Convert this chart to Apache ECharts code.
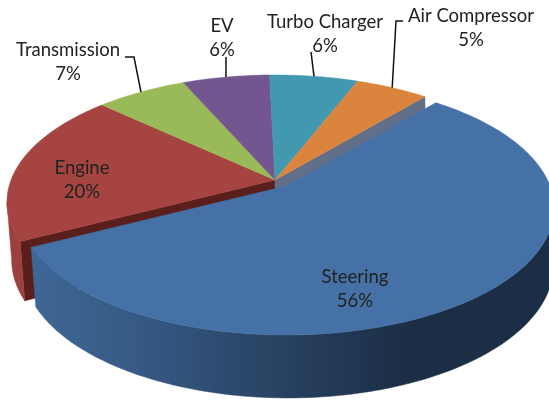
<!DOCTYPE html>
<html>
<head>
<meta charset="utf-8">
<title>Pie</title>
<style>
html, body { margin: 0; padding: 0; background: #fff; }
#main { width: 549px; height: 400px; }
</style>
<script src="https://cdn.jsdelivr.net/npm/echarts@6/dist/echarts.min.js"></script>
</head>
<body>
<div id="main"></div>
<script>
// draw order: the pulled out slice goes last
var categories = ['Engine', 'Transmission', 'EV', 'Turbo Charger', 'Air Compressor', 'Steering'];
var shares = [19.5, 6.5, 6.2, 6.3, 5.2, 56.3];

var topColors = ['#a64441', '#9aba59', '#735690', '#4198af', '#db843d', '#4571a6'];
var wallColors = ['#9c403d', '#7d9a48', '#5c4575', '#35798c', '#b06a30', '#2b4a6f'];
var cutColors = ['#5a1f1c', '#5a1f1c', '#5a1f1c', '#5a1f1c', '#626f88', '#2b4a6f'];
var labelCenters = [[82, 180], [68, 62], [222, 38], [325, 34], [471, 28], [355, 289]];
var leaderStarts = [null, [[125, 57], [134, 57]], [[226, 57]], [[311, 52]], [[403, 21], [396, 21]], null];

var firstAngle = 242.7;
var explodedIndex = 5;
var explodeOffset = [11, 6];
var pivot = [275, 180];
var radiusX = 264, radiusY = 123.2, tilt = 0.173;
var depth = 57, taperX = 0.99, shiftX = 2, stretchY = 0.04;

// perspective view of the pie plane, angle clockwise from the top
function rim(angle, offset) {
	var r = angle * Math.PI / 180;
	var u = Math.sin(r), v = -Math.cos(r);
	var w = 1 - tilt * v;
	return [pivot[0] + offset[0] + radiusX * u / w, pivot[1] + offset[1] + radiusY * v / w];
}

// same point on the underside of the pie
function lower(pt, offset) {
	var ox = pivot[0] + offset[0];
	var oy = pivot[1] + offset[1];
	return [ox + (pt[0] - ox) * taperX + shiftX, pt[1] + depth + (pt[1] - oy) * stretchY];
}

function arc(from, to, offset) {
	var pts = [];
	var steps = Math.ceil(Math.abs(to - from));
	for (var i = 0; i <= steps; i++) {
		pts.push(rim(from + (to - from) * i / steps, offset));
	}
	return pts;
}

function poly(points, fill, z2) {
	return { type: 'polygon', z2: z2, shape: { points: points }, style: { fill: fill, stroke: fill, lineWidth: 0.5 } };
}

var total = shares.reduce(function(a, b) { return a + b; }, 0);
var startAngles = [];
var sum = firstAngle;
for (var n = 0; n < shares.length; n++) {
	startAngles.push(sum);
	sum += shares[n] / total * 360;
}

// the rim faces the viewer between its rightmost and leftmost points
var wallFrom = Math.acos(-tilt) * 180 / Math.PI;
var wallTo = 360 - wallFrom;

function renderSlice(params, api) {
	var i = params.dataIndex;
	var from = startAngles[i];
	var to = from + api.value(0) / total * 360;
	var mid = (from + to) / 2;
	var exploded = i === explodedIndex;
	var offset = exploded ? explodeOffset : [0, 0];
	var base = exploded ? 3 : 0;
	var center = [pivot[0] + offset[0], pivot[1] + offset[1]];
	var edge = arc(from, to, offset);
	var children = [];

	// cut faces only show next to the pulled out slice
	var cutEdges = [];
	if (i === (explodedIndex + 1) % shares.length) {
		cutEdges.push(edge[0]);
	}
	if (i + 1 === explodedIndex) {
		cutEdges.push(edge[edge.length - 1]);
	}
	cutEdges.forEach(function(p) {
		children.push(poly([center, p, lower(p, offset), lower(center, offset)], cutColors[i], base + 1));
	});

	// outer wall, visible part of the rim only (angles run past 360)
	for (var turn = 0; turn < 2; turn++) {
		var a = Math.max(from, wallFrom + turn * 360);
		var b = Math.min(to, wallTo + turn * 360);
		if (a < b) {
			var wallFill = wallColors[i];
			if (exploded) {
				wallFill = new echarts.graphic.LinearGradient(0, 0, 1, 0, [
					{ offset: 0, color: '#3f6795' },
					{ offset: 0.2, color: '#365a85' },
					{ offset: 0.45, color: '#294465' },
					{ offset: 0.7, color: '#1c2f47' },
					{ offset: 1, color: '#1b2d44' }
				]);
			}
			var wallTop = arc(a, b, offset);
			var wallBottom = wallTop.map(function(p) { return lower(p, offset); }).reverse();
			children.push(poly(wallTop.concat(wallBottom), wallFill, base + 1));
		}
	}

	// top face
	children.push(poly([center].concat(edge), topColors[i], base + 2));

	// leader line runs to the middle of the slice rim
	if (leaderStarts[i]) {
		children.push({
			type: 'polyline',
			z2: 9,
			shape: { points: leaderStarts[i].concat([rim(mid, offset)]) },
			style: { stroke: '#111', lineWidth: 1.5, fill: null }
		});
	}

	children.push({
		type: 'text',
		z2: 10,
		style: {
			text: categories[i] + '\n' + Math.round(api.value(0)) + '%',
			x: labelCenters[i][0],
			y: labelCenters[i][1],
			align: 'center',
			verticalAlign: 'middle',
			fontFamily: 'Lato',
			fontSize: 18.5,
			lineHeight: 24.5,
			fill: '#222'
		}
	});

	return { type: 'group', children: children };
}

var chart = echarts.init(document.getElementById('main'));
chart.setOption({
	animation: false,
	backgroundColor: '#fff',
	series: [{
		type: 'custom',
		coordinateSystem: 'none',
		silent: true,
		renderItem: renderSlice,
		data: shares
	}]
});
</script>
</body>
</html>
